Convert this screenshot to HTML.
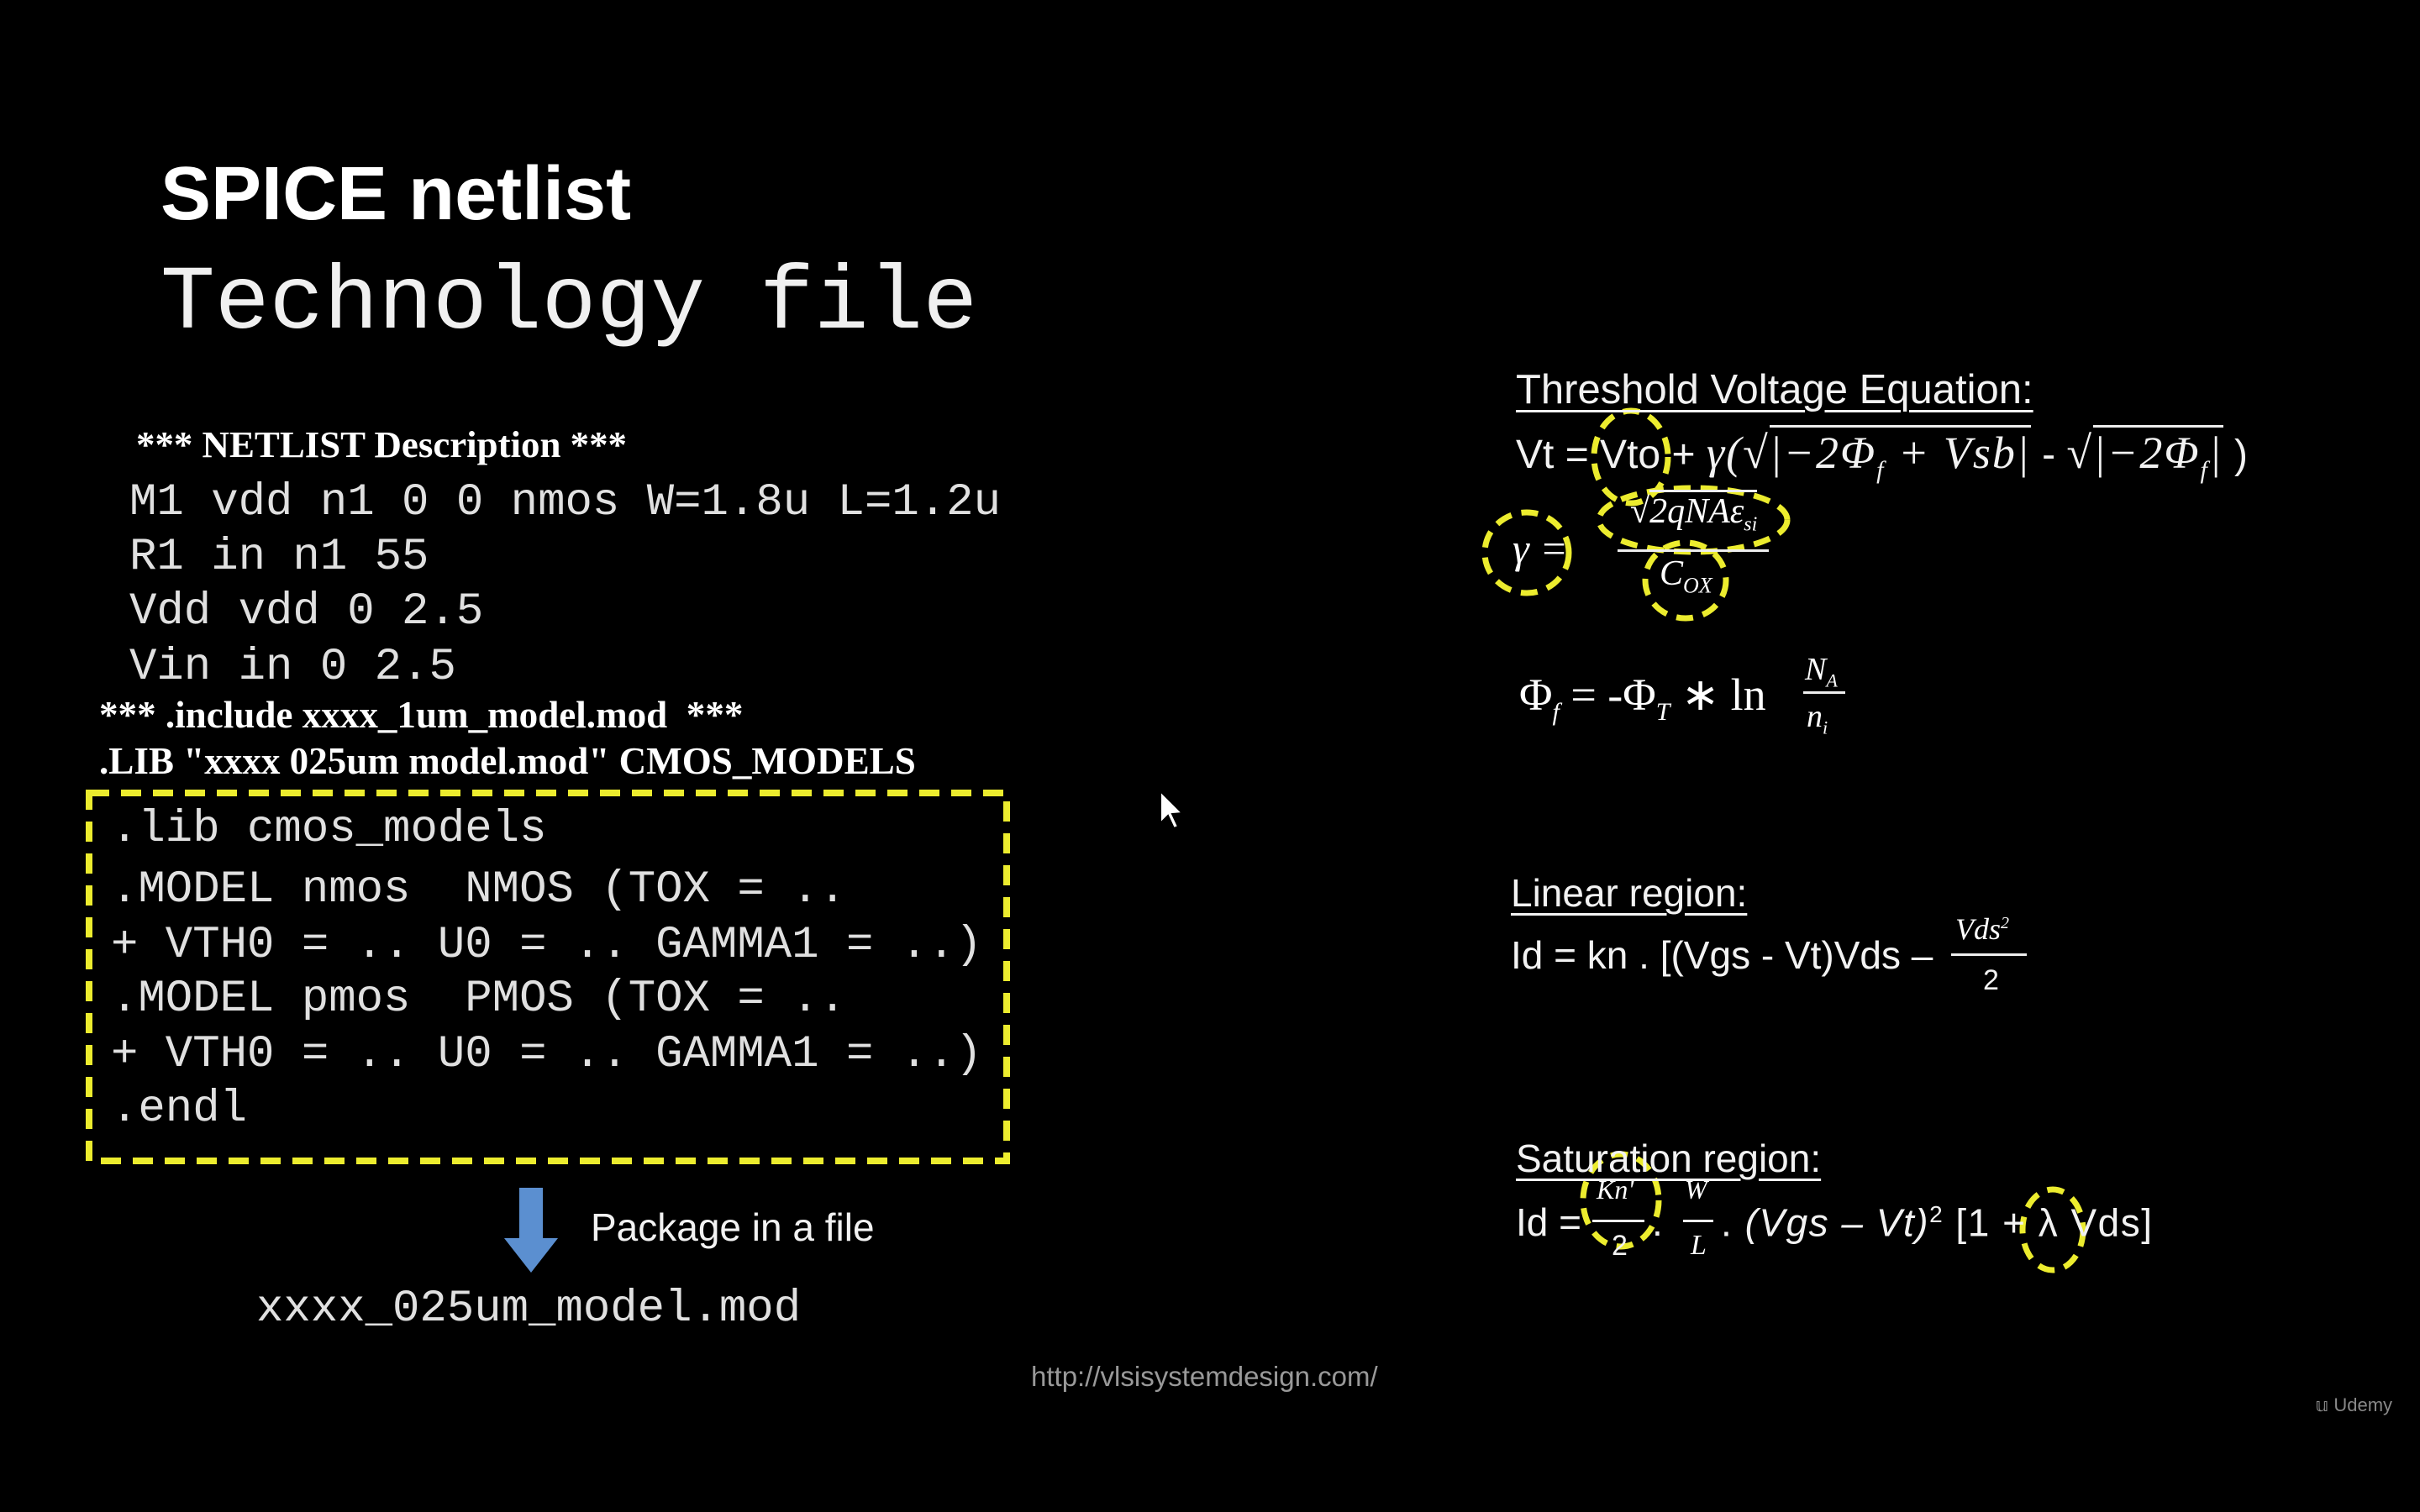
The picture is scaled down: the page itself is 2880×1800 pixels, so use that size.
<!DOCTYPE html>
<html><head><meta charset="utf-8"><style>
html,body{margin:0;padding:0;background:#000;}
body{width:2880px;height:1800px;position:relative;overflow:hidden;color:#fff;}
.a{position:absolute;white-space:pre;line-height:1;}
.mono{font-family:"Liberation Mono",monospace;color:#e0e0e0;font-size:54px;}
.ser{font-family:"Liberation Serif",serif;font-weight:bold;font-size:46px;transform:scaleX(0.98);transform-origin:left;}
.cal{font-family:"Liberation Sans Narrow","Liberation Sans",sans-serif;color:#f2f2f2;}
.m{font-family:"Liberation Serif",serif;font-style:italic;}
.u{text-decoration:underline;text-decoration-thickness:3px;text-underline-offset:8px;}
.ov{border-top:3px solid #eee;}
</style></head><body>

<div class="a" style="left:191px;top:186px;font-family:'Liberation Sans',sans-serif;font-weight:bold;font-size:90px;">SPICE netlist</div>
<div class="a" style="left:191px;top:308px;font-family:'Liberation Mono',monospace;font-size:108px;color:#f0f0f0;">Technology file</div>

<div class="a ser" style="left:162px;top:508px;font-size:44px;transform:scaleX(1.02);">*** NETLIST Description ***</div>
<div class="a mono" style="left:154px;top:572px;">M1 vdd n1 0 0 nmos W=1.8u L=1.2u</div>
<div class="a mono" style="left:154px;top:637px;">R1 in n1 55</div>
<div class="a mono" style="left:154px;top:702px;">Vdd vdd 0 2.5</div>
<div class="a mono" style="left:154px;top:768px;">Vin in 0 2.5</div>
<div class="a ser" style="left:118px;top:828px;">*** .include xxxx_1um_model.mod  ***</div>
<div class="a ser" style="left:118px;top:883px;">.LIB "xxxx 025um model.mod" CMOS_MODELS</div>

<svg class="a" style="left:0;top:0" width="2880" height="1800">
<rect x="106" y="944" width="1092" height="438" fill="none" stroke="#ecec2e" stroke-width="8" stroke-dasharray="24 14"/>
<g fill="none" stroke="#ecec2e" stroke-width="7" stroke-dasharray="20 12">
<ellipse cx="1941" cy="544" rx="44" ry="55"/>
<ellipse cx="1817" cy="658" rx="50" ry="48"/>
<ellipse cx="2015" cy="619" rx="112" ry="38"/>
<ellipse cx="2006" cy="691" rx="48" ry="45"/>
<ellipse cx="1929" cy="1429" rx="45" ry="55"/>
<ellipse cx="2443" cy="1464" rx="36" ry="48"/>
</g>
<polygon points="618,1414 646,1414 646,1474 664,1474 632,1515 600,1474 618,1474" fill="#5b8fd0"/>
<polygon points="1381,942 1381,980 1390,971 1397,986 1402,984 1395,969 1407,968" fill="#fff" stroke="#000" stroke-width="2"/>
</svg>

<div class="a mono" style="left:132px;top:961px;">.lib cmos_models</div>
<div class="a mono" style="left:132px;top:1033px;">.MODEL nmos  NMOS (TOX = ..</div>
<div class="a mono" style="left:132px;top:1099px;">+ VTH0 = .. U0 = .. GAMMA1 = ..)</div>
<div class="a mono" style="left:132px;top:1163px;">.MODEL pmos  PMOS (TOX = ..</div>
<div class="a mono" style="left:132px;top:1229px;">+ VTH0 = .. U0 = .. GAMMA1 = ..)</div>
<div class="a mono" style="left:132px;top:1294px;">.endl</div>

<div class="a cal" style="left:703px;top:1438px;font-size:46px;">Package in a file</div>
<div class="a mono" style="left:305px;top:1532px;">xxxx_025um_model.mod</div>
<div class="a" style="left:1227px;top:1622px;font-family:'Liberation Sans',sans-serif;font-size:33px;color:#999;">http://vlsisystemdesign.com/</div>
<div class="a" style="left:2755px;top:1662px;font-family:'Liberation Sans',sans-serif;font-size:22px;color:#888;">&#x1D566; Udemy</div>

<!-- right side -->
<div class="a cal u" style="left:1804px;top:440px;font-size:49px;">Threshold Voltage Equation:</div>
<div class="a cal" style="left:1804px;top:512px;font-size:48px;">Vt = Vto + <span class="m" style="font-size:54px;letter-spacing:2px">γ(√<span class="ov">|−2Φ<sub style="font-size:30px">f</sub> + Vsb|</span></span> - <span class="m" style="font-size:54px;letter-spacing:2px">√<span class="ov">|−2Φ<sub style="font-size:30px">f</sub>|</span></span> )</div>
<div class="a m" style="left:1800px;top:628px;font-size:50px;">γ =</div>
<div class="a m" style="left:1940px;top:588px;font-size:42px;">√<span class="ov">2qNAε<sub style="font-size:24px">si</sub></span></div>
<div class="a" style="left:1925px;top:654px;width:180px;height:3px;background:#eee;"></div>
<div class="a m" style="left:1975px;top:662px;font-size:42px;">C<sub style="font-size:26px">OX</sub></div>

<div class="a m" style="left:1808px;top:800px;font-size:54px;font-style:normal;">Φ<sub class="m" style="font-size:30px">f</sub> = -Φ<sub class="m" style="font-size:30px">T</sub> ∗ ln</div>
<div class="a m" style="left:2148px;top:778px;font-size:38px;">N<sub style="font-size:22px">A</sub></div>
<div class="a" style="left:2146px;top:823px;width:50px;height:3px;background:#eee;"></div>
<div class="a m" style="left:2150px;top:834px;font-size:38px;">n<sub style="font-size:22px">i</sub></div>

<div class="a cal u" style="left:1798px;top:1040px;font-size:46px;">Linear region:</div>
<div class="a cal" style="left:1798px;top:1114px;font-size:46px;">Id = kn . [(Vgs - Vt)Vds –</div>
<div class="a m" style="left:2327px;top:1088px;font-size:36px;">Vds<sup style="font-size:20px">2</sup></div>
<div class="a" style="left:2322px;top:1135px;width:90px;height:3px;background:#eee;"></div>
<div class="a cal" style="left:2360px;top:1150px;font-size:34px;">2</div>

<div class="a cal u" style="left:1804px;top:1356px;font-size:46px;">Saturation region:</div>
<div class="a cal" style="left:1804px;top:1432px;font-size:46px;">Id =</div>
<div class="a m" style="left:1900px;top:1400px;font-size:32px;">Kn'</div>
<div class="a" style="left:1895px;top:1452px;width:62px;height:3px;background:#eee;"></div>
<div class="a cal" style="left:1918px;top:1466px;font-size:34px;">2</div>
<div class="a cal" style="left:1966px;top:1432px;font-size:46px;">.</div>
<div class="a m" style="left:2005px;top:1400px;font-size:32px;">W</div>
<div class="a" style="left:2003px;top:1452px;width:36px;height:3px;background:#eee;"></div>
<div class="a m" style="left:2012px;top:1466px;font-size:34px;">L</div>
<div class="a cal" style="left:2048px;top:1432px;font-size:46px;letter-spacing:1.5px;">. <i>(Vgs – Vt)</i><sup style="font-size:28px">2</sup> [1 + λ Vds]</div>

</body></html>
